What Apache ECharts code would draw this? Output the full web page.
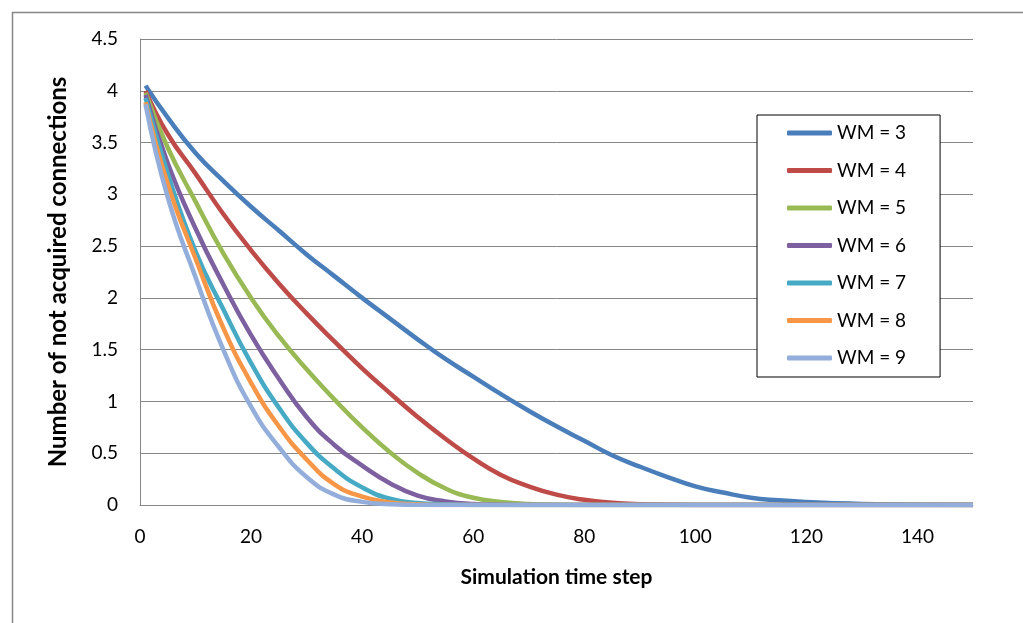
<!DOCTYPE html>
<html>
<head>
<meta charset="utf-8">
<script src="https://cdn.jsdelivr.net/npm/echarts@6/dist/echarts.min.js"></script>
<style>
html,body{margin:0;padding:0;background:#fff;}
#chart{width:1023px;height:623px;}
</style>
</head>
<body>
<div id="chart"></div>
<script>
// Simulation time steps at which values were read
const steps = [1,5,10,15,20,25,30,35,40,45,50,55,60,65,70,75,80,85,90,95,100,105,110,115,120,125,130,140,150];
const seriesNames = ['WM = 3','WM = 4','WM = 5','WM = 6','WM = 7','WM = 8','WM = 9'];
const wm3 = [4.05,3.74,3.40,3.13,2.88,2.65,2.42,2.21,2.00,1.80,1.60,1.41,1.24,1.07,0.91,0.76,0.62,0.48,0.37,0.27,0.18,0.12,0.07,0.045,0.028,0.017,0.01,0.003,0];
const wm4 = [4.00,3.58,3.20,2.81,2.46,2.14,1.85,1.58,1.32,1.08,0.85,0.64,0.45,0.29,0.18,0.10,0.05,0.022,0.008,0.003,0,0,0,0,0,0,0,0,0];
const wm5 = [3.98,3.45,2.93,2.43,2.00,1.63,1.31,1.02,0.75,0.51,0.31,0.16,0.07,0.03,0.01,0.003,0,0,0,0,0,0,0,0,0,0,0,0,0];
const wm6 = [3.96,3.30,2.67,2.13,1.64,1.22,0.85,0.58,0.38,0.21,0.09,0.035,0.01,0.003,0,0,0,0,0,0,0,0,0,0,0,0,0,0,0];
const wm7 = [3.93,3.20,2.45,1.89,1.37,0.94,0.60,0.35,0.17,0.06,0.02,0.006,0,0,0,0,0,0,0,0,0,0,0,0,0,0,0,0,0];
const wm8 = [3.89,3.10,2.38,1.71,1.18,0.76,0.44,0.20,0.08,0.025,0.007,0,0,0,0,0,0,0,0,0,0,0,0,0,0,0,0,0,0];
const wm9 = [3.87,2.97,2.20,1.50,0.95,0.56,0.27,0.10,0.03,0.008,0,0,0,0,0,0,0,0,0,0,0,0,0,0,0,0,0,0,0];
const yTicks = ['0','0.5','1','1.5','2','2.5','3','3.5','4','4.5'];
const xTicks = ['0','20','40','60','80','100','120','140'];

const allValues = [wm3, wm4, wm5, wm6, wm7, wm8, wm9];
const colors = ['#4A7EBB','#BE4B48','#98B954','#7D60A0','#46AAC5','#F79646','#93AEDB'];
const FONT = 'Lato, "Open Sans", sans-serif';

const chart = echarts.init(document.getElementById('chart'), null, {renderer: 'canvas'});
const option = {
  animation: false,
  backgroundColor: '#ffffff',
  graphic: [{
    type: 'rect', left: 10, top: 10, z: -1,
    shape: {width: 1100, height: 700},
    style: {fill: 'none', stroke: '#878787', lineWidth: 1.5}
  }],
  grid: {left: 140, right: 50, top: 39, bottom: 118, containLabel: false},
  xAxis: {
    type: 'value', min: 0, max: 150, interval: 20,
    name: 'Simulation time step', nameLocation: 'middle', nameGap: 62,
    nameTextStyle: {fontFamily: FONT, fontWeight: 'bold', fontSize: 21, color: '#000'},
    axisLine: {show: true, lineStyle: {color: '#868686', width: 1}},
    axisTick: {show: false},
    splitLine: {show: false},
    axisLabel: {
      showMaxLabel: false, margin: 22, fontFamily: FONT, fontSize: 19, color: '#000',
      formatter: v => xTicks.includes(String(v)) ? String(v) : ''
    }
  },
  yAxis: {
    type: 'value', min: 0, max: 4.5, interval: 0.5,
    name: 'Number of not acquired connections', nameLocation: 'middle', nameGap: 70,
    nameTextStyle: {fontFamily: FONT, fontWeight: 'bold', fontSize: 24, color: '#000'},
    axisLine: {show: true, lineStyle: {color: '#868686', width: 1}},
    axisTick: {show: false},
    splitLine: {show: true, lineStyle: {color: '#868686', width: 1}},
    axisLabel: {
      margin: 22, fontFamily: FONT, fontSize: 19, color: '#000',
      formatter: v => { const s = String(Math.round(v*10)/10); return yTicks.includes(s) ? s : ''; }
    }
  },
  legend: {
    orient: 'vertical', left: 757, top: 115,
    padding: [8, 34, 9, 30],
    backgroundColor: '#fff', borderColor: '#000', borderWidth: 1,
    itemWidth: 45, itemHeight: 5, itemGap: 17.5,
    icon: 'roundRect',
    textStyle: {fontFamily: FONT, fontSize: 19, color: '#000', lineHeight: 20},
    data: seriesNames
  },
  series: seriesNames.map((name, i) => ({
    name: name,
    type: 'line',
    data: steps.map((s, j) => [s, allValues[i][j]]),
    smooth: 0.5,
    showSymbol: false,
    symbol: 'none',
    lineStyle: {color: colors[i], width: 4.5},
    itemStyle: {color: colors[i]},
    z: 2 + i
  }))
};
chart.setOption(option);
</script>
</body>
</html>
